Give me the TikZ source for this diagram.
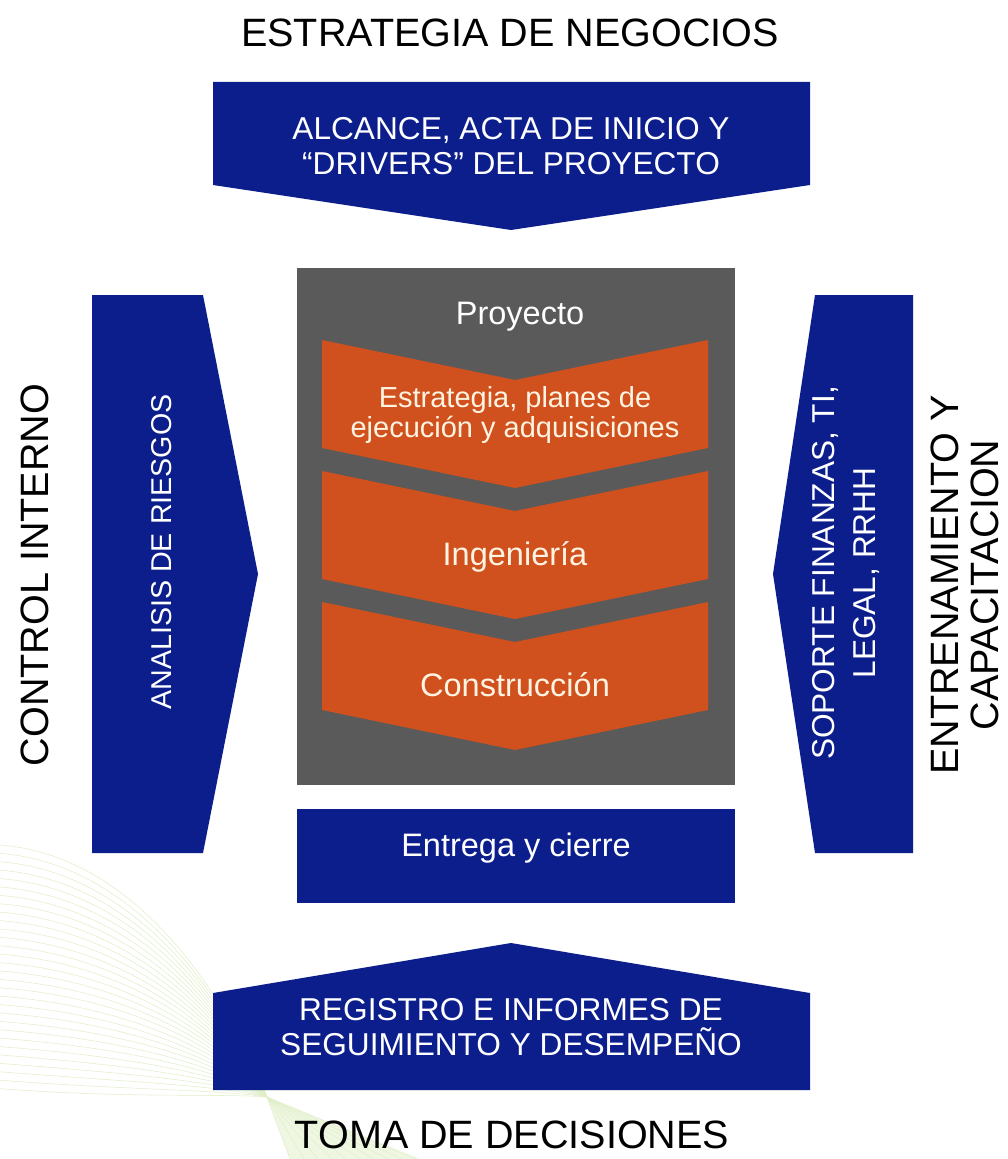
\documentclass[tikz,border=0pt]{standalone}
\usepackage{fontspec}
\setmainfont{Liberation Sans}
\usetikzlibrary{positioning}
\usetikzlibrary{calc}

\definecolor{ppblue}{RGB}{12,30,140}
\definecolor{pporange}{RGB}{208,80,30}
\definecolor{ppgray}{RGB}{90,90,90}
\definecolor{ppcream}{RGB}{255,244,226}
\definecolor{ppgreen}{RGB}{224,239,200}

\tikzset{
    outer label/.style={inner sep=0, text=black,
        font=\fontsize{22.5}{25.5}\selectfont, align=center},
    band text/.style={inner sep=0, text=white,
        font=\fontsize{18}{20}\selectfont, align=center},
    phase text/.style={inner sep=0, text=ppcream,
        font=\fontsize{18.5}{20}\selectfont, align=center},
    fan line/.style={draw=ppgreen, line width=0.3pt},
}

\begin{document}
\begin{tikzpicture}

% Page frame

\useasboundingbox [fill=white] (0,0) rectangle (201.6mm,-231.8mm);

% Background fan

\coordinate (fan knot) at (53.4mm,-219.4mm);
\fill [ppgreen!50] (fan knot) -- (58mm,-231.8mm) -- (84mm,-231.8mm) -- cycle;
\foreach \k in {0,...,29} {
    \pgfmathsetmacro{\y}{169+\k*1.68}
    \pgfmathsetmacro{\yc}{\y+(219.4-\y)*0.55}
    \path [fan line]
        (0,-\y mm) .. controls (26mm,-\y mm-2mm)
        and (44mm,-\yc mm) .. (fan knot);
}
\foreach \k in {0,...,9}
    \path [fan line]
        (fan knot) -- ($(58mm,-231.8mm)+(\k*2.8mm,0)$);

% Top and bottom bands

\fill [ppblue] (42.6mm,-16.4mm) -- (162mm,-16.4mm) -- (162mm,-37mm)
    -- (102.2mm,-46mm) -- (42.6mm,-37mm) -- cycle;
\fill [ppblue] (42.6mm,-218mm) -- (162mm,-218mm) -- (162mm,-198.6mm)
    -- (102.2mm,-188.6mm) -- (42.6mm,-198.6mm) -- cycle;

% Side arrows

\fill [ppblue] (18.4mm,-59mm) -- (40.6mm,-59mm) -- (51.6mm,-114.8mm)
    -- (40.6mm,-170.6mm) -- (18.4mm,-170.6mm) -- cycle;
\fill [ppblue] (182.6mm,-59mm) -- (163mm,-59mm) -- (154.6mm,-114.8mm)
    -- (163mm,-170.6mm) -- (182.6mm,-170.6mm) -- cycle;

% Project block

\fill [ppgray] (59.4mm,-53.6mm) rectangle (147mm,-157mm);
\foreach \t in {68, 94.2, 120.4}
    \fill [pporange] (64.4mm,-\t mm) -- (103mm,-\t mm-8mm)
        -- (141.6mm,-\t mm) -- (141.6mm,-\t mm-21.6mm)
        -- (103mm,-\t mm-29.6mm) -- (64.4mm,-\t mm-21.6mm) -- cycle;
\fill [ppblue] (59.4mm,-161.8mm) rectangle (147mm,-180.6mm);

% Texts

\node [outer label] (strategy) at (102mm,-6.6mm) {ESTRATEGIA DE NEGOCIOS};
\node [outer label] (decisions) at (102.4mm,-227mm) {TOMA DE DECISIONES};
\node [outer label, rotate=90] (control) at (7mm,-115mm) {CONTROL INTERNO};
\node [outer label, rotate=90,
    font=\fontsize{22.5}{22.8}\selectfont] (training) at (193mm,-117mm)
    {ENTRENAMIENTO Y\\CAPACITACION};

\node [band text] (scope) at (102.2mm,-29.2mm)
    {ALCANCE, ACTA DE INICIO Y\\``DRIVERS'' DEL PROYECTO};
\node [band text] (records) at (102.2mm,-205.4mm)
    {REGISTRO E INFORMES DE\\SEGUIMIENTO Y DESEMPEÑO};
\node [band text, rotate=90,
    font=\fontsize{16.3}{18}\selectfont] (risks) at (32.4mm,-110.4mm)
    {ANALISIS DE RIESGOS};
\node [band text, rotate=90,
    font=\fontsize{18}{23}\selectfont] (support) at (169.2mm,-114.6mm)
    {SOPORTE FINANZAS, TI,\\LEGAL, RRHH};

\node [band text, font=\fontsize{18.5}{20}\selectfont] (project)
    at (104mm,-63.4mm) {Proyecto};
\node [phase text, font=\fontsize{16.5}{15.4}\selectfont] (plans)
    at (103mm,-83mm) {Estrategia, planes de\\ejecución y adquisiciones};
\node [phase text] (engineering) at (103mm,-111.4mm) {Ingeniería};
\node [phase text] (building) at (103mm,-137mm) {Construcción};
\node [band text, font=\fontsize{18.5}{20}\selectfont] (delivery)
    at (103.2mm,-169.6mm) {Entrega y cierre};

\end{tikzpicture}
\end{document}
